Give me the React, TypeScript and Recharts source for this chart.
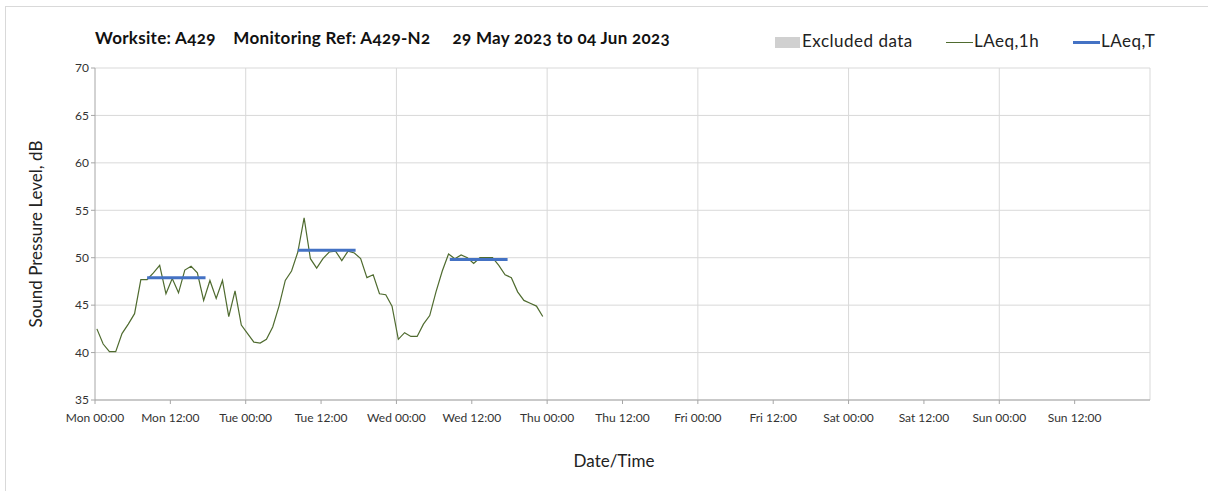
import {
  ComposedChart,
  Line,
  XAxis,
  YAxis,
  CartesianGrid,
  ReferenceLine,
} from "recharts";

// hourly LAeq,1h values, Mon 00:00 .. Wed 23:00
const LAEQ_1H = [
  42.5, 40.9, 40.1, 40.1, 42.0, 43.0, 44.1, 47.7, 47.7, 48.4, 49.2, 46.2,
  47.8, 46.3, 48.7, 49.1, 48.4, 45.5, 47.6, 45.7, 47.6, 43.8, 46.5, 42.9,
  42.0, 41.1, 41.0, 41.4, 42.7, 44.9, 47.6, 48.6, 50.6, 54.2, 49.9, 48.9,
  49.9, 50.6, 50.7, 49.7, 50.7, 50.5, 49.9, 47.9, 48.2, 46.2, 46.1, 44.9,
  41.4, 42.1, 41.7, 41.7, 43.0, 43.9, 46.4, 48.6, 50.4, 49.9, 50.3, 50.0,
  49.4, 50.0, 50.0, 50.0, 49.2, 48.2, 47.9, 46.4, 45.5, 45.2, 44.9, 43.8,
];
const FIRST_HOUR = 0.3; // plotted offset of the first reading, hours

// LAeq,T daytime periods (hours from Mon 00:00)
const LAEQ_T_START = [8.3, 32.3, 56.5];
const LAEQ_T_END = [17.6, 41.5, 65.7];
const LAEQ_T_VALUE = [47.9, 50.8, 49.8];

const X_TICKS = [0, 12, 24, 36, 48, 60, 72, 84, 96, 108, 120, 132, 144, 156];
const X_LABELS = [
  "Mon 00:00", "Mon 12:00", "Tue 00:00", "Tue 12:00", "Wed 00:00", "Wed 12:00",
  "Thu 00:00", "Thu 12:00", "Fri 00:00", "Fri 12:00", "Sat 00:00", "Sat 12:00",
  "Sun 00:00", "Sun 12:00",
];
const DAY_LINES = [24, 48, 72, 96, 120, 144, 168];
const Y_TICKS = [35, 40, 45, 50, 55, 60, 65, 70];

const FONT = "Lato, 'Open Sans', sans-serif";
const GREEN = "#4f6b2f";
const BLUE = "#4472c4";

const legendText = {
  position: "absolute" as const,
  top: 30,
  fontSize: 17,
  letterSpacing: 0.5,
  color: "#222",
};

export default function App() {
  const hourly = LAEQ_1H.map((v, i) => ({ t: FIRST_HOUR + i, v }));
  const periods = LAEQ_T_VALUE.map((v, i) => [
    { t: LAEQ_T_START[i], v },
    { t: LAEQ_T_END[i], v },
  ]);

  const tickStyle = { fontSize: 12, fill: "#333", fontFamily: FONT };

  return (
    <div
      style={{
        position: "absolute",
        left: 0,
        top: 0,
        width: 1208,
        height: 491,
        background: "#fff",
        fontFamily: FONT,
        overflow: "hidden",
      }}
    >
      <div
        style={{
          position: "absolute",
          left: 5,
          top: 6,
          width: 1300,
          height: 600,
          borderTop: "1px solid #d9d9d9",
          borderLeft: "1px solid #d9d9d9",
        }}
      />
      <div
        style={{
          position: "absolute",
          left: 95,
          top: 27,
          fontSize: 17,
          letterSpacing: 0.3,
          fontWeight: 700,
          color: "#111",
          whiteSpace: "pre",
          fontVariantNumeric: "oldstyle-nums",
        }}
      >
        {"Worksite: A429    Monitoring Ref: A429-N2     29 May 2023 to 04 Jun 2023"}
      </div>

      {/* legend */}
      <div style={{ position: "absolute", left: 775, top: 37, width: 25, height: 11, background: "#d0d0d0" }} />
      <div style={{ ...legendText, left: 802 }}>Excluded data</div>
      <div style={{ position: "absolute", left: 946, top: 42, width: 27, height: 1, background: GREEN }} />
      <div style={{ ...legendText, left: 974 }}>LAeq,1h</div>
      <div style={{ position: "absolute", left: 1073, top: 41, width: 27, height: 3, background: BLUE }} />
      <div style={{ ...legendText, left: 1101 }}>LAeq,T</div>

      <div
        style={{
          position: "absolute",
          left: 35,
          top: 234,
          transform: "translate(-50%, -50%) rotate(-90deg)",
          fontSize: 17,
          color: "#222",
          whiteSpace: "nowrap",
        }}
      >
        Sound Pressure Level, dB
      </div>
      <div
        style={{
          position: "absolute",
          left: 614,
          top: 460,
          transform: "translate(-50%, -50%)",
          fontSize: 17,
          color: "#222",
        }}
      >
        Date/Time
      </div>

      <div style={{ position: "absolute", left: 0, top: 0 }}>
        <ComposedChart
          width={1208}
          height={491}
          margin={{ top: 68, right: 58, bottom: 61, left: 35 }}
        >
          <CartesianGrid stroke="#d9d9d9" vertical={false} />
          {DAY_LINES.map((d) => (
            <ReferenceLine key={d} x={d} stroke="#d9d9d9" strokeWidth={1} />
          ))}
          <XAxis
            type="number"
            dataKey="t"
            domain={[0, 168]}
            ticks={X_TICKS}
            allowDataOverflow
            tickFormatter={(t: number) => X_LABELS[X_TICKS.indexOf(t)] ?? ""}
            tick={tickStyle}
            tickSize={4}
            tickMargin={9}
            stroke="#a6a6a6"
            height={30}
            interval={0}
          />
          <YAxis
            type="number"
            domain={[35, 70]}
            ticks={Y_TICKS}
            tick={tickStyle}
            tickSize={4}
            stroke="#a6a6a6"
            width={60}
            allowDataOverflow
          />
          <Line
            data={hourly}
            dataKey="v"
            stroke={GREEN}
            strokeWidth={1.2}
            dot={false}
            activeDot={false}
            isAnimationActive={false}
          />
          {periods.map((p, i) => (
            <Line
              key={i}
              data={p}
              dataKey="v"
              stroke={BLUE}
              strokeWidth={3}
              dot={false}
              activeDot={false}
              isAnimationActive={false}
            />
          ))}
        </ComposedChart>
      </div>
    </div>
  );
}
